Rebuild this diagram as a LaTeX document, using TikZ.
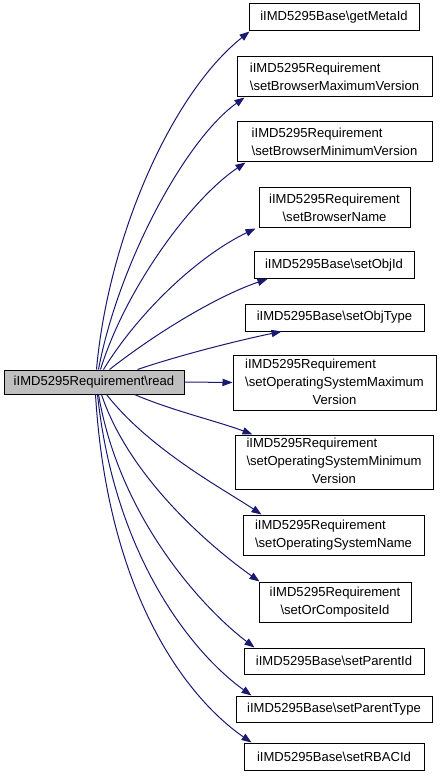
\documentclass[tikz,border=0pt]{standalone}
\usepackage{fontspec}
\setmainfont{Liberation Sans}
\usetikzlibrary{arrows.meta,calc}
\definecolor{edgeblue}{HTML}{191970}
\definecolor{rootfill}{HTML}{BFBFBF}
\tikzset{
  box/.style={draw=black, line width=0.75pt, fill=white, inner sep=0pt,
    font=\fontsize{9.8}{13.5}\selectfont},
  rootbox/.style={box, fill=rootfill},
  edge/.style={draw=edgeblue, line width=0.75pt,
    -{Triangle[length=7.5pt,width=5.5pt]}},
}
\newcommand{\bs}{\textbackslash}
\begin{document}
\begin{tikzpicture}[x=0.75pt,y=-0.75pt]
\useasboundingbox (0,0) rectangle (441,780);
\node[rootbox, minimum width=180*0.75pt, minimum height=24*0.75pt] (root) at (94,382) {iIMD5295Requirement\bs read};

\node[box, minimum width=170*0.75pt, minimum height=27*0.75pt] (n1) at (334,17.5) {iIMD5295Base\bs getMetaId};
\node[box, align=left, minimum width=195*0.75pt, minimum height=40*0.75pt] (n2) at (334.5,77) {iIMD5295Requirement\\\bs setBrowserMaximumVersion};
\node[box, align=left, minimum width=195*0.75pt, minimum height=40*0.75pt] (n3) at (334.5,142) {iIMD5295Requirement\\\bs setBrowserMinimumVersion};
\node[box, align=center, minimum width=151*0.75pt, minimum height=40*0.75pt] (n4) at (334.5,208) {iIMD5295Requirement\\\bs setBrowserName};
\node[box, minimum width=160*0.75pt, minimum height=27*0.75pt] (n5) at (334,265) {iIMD5295Base\bs setObjId};
\node[box, minimum width=179*0.75pt, minimum height=27*0.75pt] (n6) at (334.5,317.5) {iIMD5295Base\bs setObjType};
\node[box, minimum width=203*0.75pt, minimum height=55*0.75pt] (n7) at (334.5,382.5) {\begin{tabular}{@{}l@{}}iIMD5295Requirement\\\bs setOperatingSystemMaximum\\\multicolumn{1}{@{}c@{}}{Version}\end{tabular}};
\node[box, minimum width=198*0.75pt, minimum height=54*0.75pt] (n8) at (334,462) {\begin{tabular}{@{}l@{}}iIMD5295Requirement\\\bs setOperatingSystemMinimum\\\multicolumn{1}{@{}c@{}}{Version}\end{tabular}};
\node[box, align=left, minimum width=181*0.75pt, minimum height=40*0.75pt] (n9) at (333.5,535) {iIMD5295Requirement\\\bs setOperatingSystemName};
\node[box, align=center, minimum width=152*0.75pt, minimum height=40*0.75pt] (n10) at (335,602) {iIMD5295Requirement\\\bs setOrCompositeId};
\node[box, minimum width=180*0.75pt, minimum height=26*0.75pt] (n11) at (334,661) {iIMD5295Base\bs setParentId};
\node[box, minimum width=196*0.75pt, minimum height=26*0.75pt] (n12) at (334,709) {iIMD5295Base\bs setParentType};
\node[box, minimum width=180*0.75pt, minimum height=27*0.75pt] (n13) at (334,756.5) {iIMD5295Base\bs setRBACId};

\draw[edge] ($(root.north west)+(93,0)$) .. controls (108,240) and (170,95) .. ($(n1.south west)+(1,0)$);
\draw[edge] ($(root.north west)+(95,0)$) .. controls (118,265) and (185,140) .. ($(n2.south west)+(8,0)$);
\draw[edge] ($(root.north west)+(97,0)$) .. controls (125,290) and (190,200) .. ($(n3.south west)+(9,0)$);
\draw[edge] ($(root.north west)+(100,0)$) .. controls (140,310) and (200,255) .. ($(n4.south west)+(-3,0)$);
\draw[edge] ($(root.north west)+(106,0)$) .. controls (160,330) and (220,295) .. ($(n5.south west)+(14,0)$);
\draw[edge] ($(root.north west)+(134,0)$) .. controls (180,355) and (240,340) .. ($(n6.south west)+(37,0)$);
\draw[edge] (root.east) -- (n7.west);
\draw[edge] ($(root.south west)+(131,0)$) .. controls (170,410) and (220,422) .. ($(n8.north west)+(18,0)$);
\draw[edge] ($(root.south west)+(103,0)$) .. controls (150,450) and (225,490) .. ($(n9.north west)+(19,0)$);
\draw[edge] ($(root.south west)+(98,0)$) .. controls (130,480) and (215,550) .. ($(n10.north west)+(1,0)$);
\draw[edge] ($(root.south west)+(95,0)$) .. controls (120,520) and (205,610) .. ($(n11.north west)+(11,0)$);
\draw[edge] ($(root.south west)+(94,0)$) .. controls (115,560) and (195,655) .. ($(n12.north west)+(16,0)$);
\draw[edge] ($(root.south west)+(92,0)$) .. controls (108,600) and (190,700) .. ($(n13.north west)+(8,0)$);
\end{tikzpicture}
\end{document}
